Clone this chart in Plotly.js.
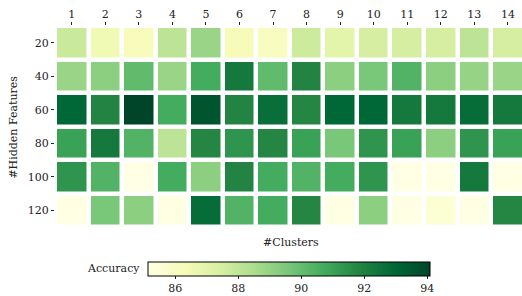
<!DOCTYPE html>
<html>
<head>
<meta charset="utf-8">
<script src="https://cdn.plot.ly/plotly-3.0.1.min.js"></script>
<style>html,body{margin:0;padding:0;background:#fff;}#chart{width:522px;height:296px;}</style>
</head>
<body>
<div id="chart"></div>
<script>
const clusters = [1,2,3,4,5,6,7,8,9,10,11,12,13,14];
const hiddenFeatures = [20,40,60,80,100,120];
const acc20  = [87.8,86.5,86.2,88.1,88.9,86.3,86.1,87.7,87.0,87.5,87.5,87.5,88.1,87.5];
const acc40  = [88.9,89.2,90.1,88.9,90.7,92.3,90.1,91.9,89.2,89.6,90.4,89.2,89.0,88.9];
const acc60  = [93.0,91.9,94.1,90.7,93.6,91.9,92.7,91.8,93.0,93.0,92.3,92.3,92.8,92.3];
const acc80  = [91.0,92.3,90.4,88.1,91.8,91.4,91.8,91.0,89.6,91.4,91.0,89.2,91.4,91.0];
const acc100 = [91.4,90.4,85.15,90.7,89.2,91.9,90.7,90.4,90.7,91.4,85.2,85.2,92.3,85.2];
const acc120 = [85.2,89.6,89.2,85.2,92.8,90.4,90.7,91.8,85.2,89.2,85.2,85.6,85.2,91.8];
const colorTicks = [86,88,90,92,94];

const ylgn = [
  [0,'#ffffe5'],[0.125,'#f7fcb9'],[0.25,'#d9f0a3'],[0.375,'#addd8e'],
  [0.5,'#78c679'],[0.625,'#41ab5d'],[0.75,'#238443'],[0.875,'#006837'],[1,'#004529']
];
const font = {family:'DejaVu Serif', size:11, color:'#222'};

const trace = {
  type:'heatmap',
  x: clusters,
  y: hiddenFeatures,
  z: [acc20,acc40,acc60,acc80,acc100,acc120],
  colorscale: ylgn,
  zmin: 85.15, zmax: 94.1,
  xgap: 4.5, ygap: 4.5,
  hoverongaps:false,
  colorbar: {
    orientation:'h',
    x:0.502, xanchor:'center',
    y:-0.174, yanchor:'top',
    len:282, lenmode:'pixels',
    thickness:13.5,
    xpad:0, ypad:0,
    outlinewidth:1, outlinecolor:'#000',
    ticks:'outside', ticklen:3, tickcolor:'#222',
    tickvals: colorTicks,
    tickfont: font
  }
};

const layout = {
  width:522, height:296,
  margin:{l:54.5, r:0, t:26, b:69},
  paper_bgcolor:'#fff', plot_bgcolor:'#fff',
  font: font,
  xaxis:{
    side:'top', tickvals: clusters, ticks:'outside', ticklen:3, tickcolor:'#222',
    showgrid:false, zeroline:false, showline:false, range:[0.5,14.42]
  },
  yaxis:{
    tickvals: hiddenFeatures, ticks:'outside', ticklen:3, tickcolor:'#222',
    showgrid:false, zeroline:false, showline:false, range:[130,10]
  },
  annotations:[
    {text:'#Clusters', xref:'paper', yref:'paper', x:0.505, y:-0.078, xanchor:'center', yanchor:'middle', showarrow:false, font:font},
    {text:'#Hidden Features', xref:'paper', yref:'paper', x:-0.088, y:0.499, textangle:-90, xanchor:'center', yanchor:'middle', showarrow:false, font:font},
    {text:'Accuracy', xref:'paper', yref:'paper', x:0.187, y:-0.207, xanchor:'right', yanchor:'middle', showarrow:false, font:font}
  ]
};

Plotly.newPlot('chart',[trace],layout,{displayModeBar:false, staticPlot:true});
</script>
</body>
</html>
